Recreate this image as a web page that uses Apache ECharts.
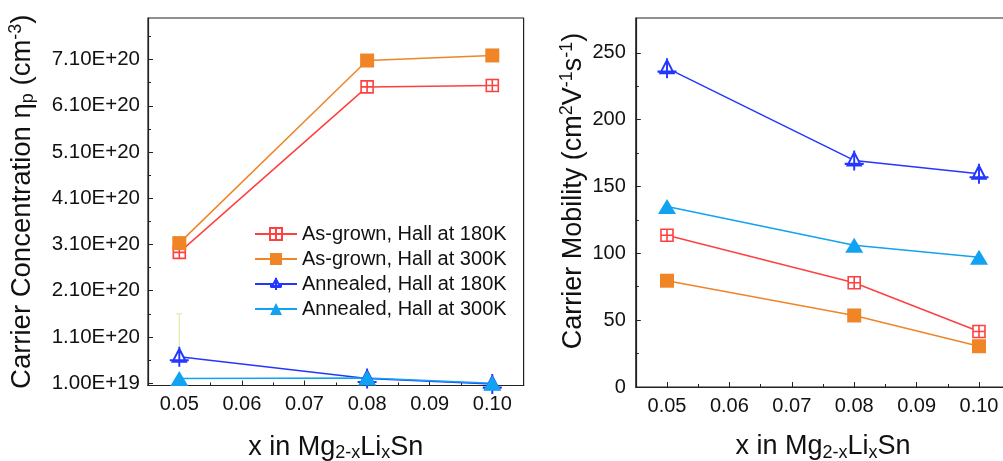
<!DOCTYPE html>
<html>
<head>
<meta charset="utf-8">
<script src="https://cdn.jsdelivr.net/npm/echarts@6/dist/echarts.min.js"></script>
<style>
  html, body { margin: 0; padding: 0; background: #fff; }
  #chart { width: 1003px; height: 461px; }
</style>
</head>
<body>
<div id="chart"></div>
<script>
// x values (Li content)
var xVals = [0.05, 0.08, 0.10];

// carrier concentration (cm^-3)
var concAsGrown180 = [2.93e20, 6.51e20, 6.54e20];
var concAsGrown300 = [3.13e20, 7.08e20, 7.19e20];
var concAnneal180 = [0.67e20, 0.20e20, 0.08e20];
var concAnneal300 = [0.20e20, 0.21e20, 0.10e20];
// error bar on annealed 180K at x=0.05
var errX = [0.05];
var errLow = [0.67e20];
var errHigh = [1.60e20];

// carrier mobility (cm2 V-1 s-1)
var mobAsGrown180 = [113.5, 78, 41.5];
var mobAsGrown300 = [79.5, 53.5, 30.5];
var mobAnneal180 = [238.5, 169.5, 159.5];
var mobAnneal300 = [135, 106, 97];

// tick values
var xMajor = [0.05, 0.06, 0.07, 0.08, 0.09, 0.10];
var xMinor = [0.055, 0.065, 0.075, 0.085, 0.095];
var concMajor = [0.1e20, 1.1e20, 2.1e20, 3.1e20, 4.1e20, 5.1e20, 6.1e20, 7.1e20];
var concMinor = [0.6e20, 1.6e20, 2.6e20, 3.6e20, 4.6e20, 5.6e20, 6.6e20, 7.6e20];
var mobMajor = [0, 50, 100, 150, 200, 250];
var mobMinor = [25, 75, 125, 175, 225];

var names = ["As-grown, Hall at 180K", "As-grown, Hall at 300K", "Annealed, Hall at 180K", "Annealed, Hall at 300K"];

var FONT = "Liberation Sans";
var INK = "#111";
var FRAME = "#222";
var cRed = "#ff4040", cOrange = "#ef8527", cBlue = "#2437ff", cCyan = "#12a2f2";

var gridSymbol = "path://M0,0H10V10H0Z M5,0V10 M0,5H10";
var triCross = "path://M10,2L17,15H3Z M10,0V20 M0,13.5H20";

function pairs(ys) {
  return xVals.map(function (x, i) { return [x, ys[i]]; });
}
function sci(v) {
  var e = Math.floor(Math.log10(v) + 1e-9);
  return (v / Math.pow(10, e)).toFixed(2) + "E+" + e;
}

var richSub = {
  sub: { fontSize: 18, fontFamily: FONT, color: INK, verticalAlign: "bottom" },
  sup: { fontSize: 18, fontFamily: FONT, color: INK, verticalAlign: "top" }
};

function xMain(grid, min, max, gap) {
  return {
    type: "value", gridIndex: grid, position: "bottom", min: min, max: max,
    name: "x in Mg{sub|2-x}Li{sub|x}Sn", nameLocation: "middle", nameGap: gap,
    nameTextStyle: { fontSize: 27, fontFamily: FONT, color: INK, lineHeight: 30, rich: richSub },
    axisLine: { show: true, lineStyle: { color: FRAME, width: 1.2 } },
    axisTick: { show: true, inside: true, length: 5, customValues: xMajor, lineStyle: { color: FRAME } },
    axisLabel: { customValues: xMajor, margin: 9, fontSize: 20, fontFamily: FONT, color: INK,
      formatter: function (v) { return v.toFixed(2); } },
    splitLine: { show: false }
  };
}
function xMinorAxis(grid, min, max) {
  return {
    type: "value", gridIndex: grid, position: "bottom", min: min, max: max,
    axisLine: { show: false },
    axisTick: { show: true, inside: true, length: 3, customValues: xMinor, lineStyle: { color: FRAME } },
    axisLabel: { show: false }, splitLine: { show: false }
  };
}
function yMinorAxis(grid, min, max, ticks) {
  return {
    type: "value", gridIndex: grid, position: "left", min: min, max: max,
    axisLine: { show: false },
    axisTick: { show: true, inside: true, length: 3, customValues: ticks, lineStyle: { color: FRAME } },
    axisLabel: { show: false }, splitLine: { show: false }
  };
}

function lineSeries(name, xi, yi, data, color, sym, size, fill, bw) {
  return {
    name: name, type: "line", xAxisIndex: xi, yAxisIndex: yi, data: data,
    symbol: sym, symbolSize: size,
    lineStyle: { color: color, width: 1.5 },
    itemStyle: { color: fill || color, borderColor: color, borderWidth: fill ? (bw || 1.6) : 0 },
    emphasis: { disabled: true }, animation: false
  };
}

var myChart = echarts.init(document.getElementById("chart"));
myChart.setOption({
  backgroundColor: "#fff",
  animation: false,
  grid: [
    { left: 148, right: 479.4, top: 18, bottom: 75.5, outerBoundsMode: "none",
      show: true, borderColor: FRAME, borderWidth: 1.2 },
    { left: 635.8, right: -7.2, top: 18, bottom: 74, outerBoundsMode: "none",
      show: true, borderColor: FRAME, borderWidth: 1.2 }
  ],
  legend: {
    data: names, orient: "vertical", left: 249, top: 219,
    itemWidth: 42, itemHeight: 15, itemGap: 5,
    textStyle: { fontSize: 20, fontFamily: FONT, color: INK }
  },
  xAxis: [
    xMain(0, 0.045, 0.105, 47), xMinorAxis(0, 0.045, 0.105),
    xMain(1, 0.045, 0.105, 45), xMinorAxis(1, 0.045, 0.105)
  ],
  yAxis: [
    {
      type: "value", gridIndex: 0, position: "left", min: 0.05e20, max: 8.0e20,
      name: "Carrier Concentration η{sub|p} (cm{sup|-3})", nameLocation: "middle", nameGap: 111,
      nameTextStyle: { fontSize: 27.5, fontFamily: FONT, color: INK, lineHeight: 30, rich: richSub },
      axisLine: { show: true, lineStyle: { color: FRAME, width: 1.2 } },
      axisTick: { show: true, inside: true, length: 5, customValues: concMajor, lineStyle: { color: FRAME } },
      axisLabel: { customValues: concMajor, margin: 8, fontSize: 20.5, fontFamily: FONT, color: INK, formatter: sci },
      splitLine: { show: false }
    },
    yMinorAxis(0, 0.05e20, 8.0e20, concMinor),
    {
      type: "value", gridIndex: 1, position: "left", min: 0, max: 276,
      name: "Carrier Mobility (cm{sup|2}V{sup|-1}s{sup|-1})", nameLocation: "middle", nameGap: 45,
      nameTextStyle: { fontSize: 27, fontFamily: FONT, color: INK, lineHeight: 30, rich: richSub, padding: [0, 0, 0, 23] },
      axisLine: { show: true, lineStyle: { color: FRAME, width: 1.2 } },
      axisTick: { show: true, inside: true, length: 5, customValues: mobMajor, lineStyle: { color: FRAME } },
      axisLabel: { customValues: mobMajor, margin: 10, fontSize: 20, fontFamily: FONT, color: INK },
      splitLine: { show: false }
    },
    yMinorAxis(1, 0, 276, mobMinor)
  ],
  series: [
    {
      type: "custom", xAxisIndex: 0, yAxisIndex: 0, z: 1, silent: true,
      data: errX.map(function (x, i) { return [x, errLow[i], errHigh[i]]; }),
      encode: { x: 0, y: [1, 2] },
      renderItem: function (params, api) {
        var lo = api.coord([api.value(0), api.value(1)]);
        var hi = api.coord([api.value(0), api.value(2)]);
        var st = { stroke: "#dbe79a", lineWidth: 1 };
        return { type: "group", children: [
          { type: "line", shape: { x1: lo[0], y1: lo[1], x2: hi[0], y2: hi[1] }, style: st },
          { type: "line", shape: { x1: hi[0] - 3, y1: hi[1], x2: hi[0] + 3, y2: hi[1] }, style: st }
        ] };
      }
    },
    lineSeries(names[0], 0, 0, pairs(concAsGrown180), cRed, gridSymbol, 12, "#fff"),
    lineSeries(names[1], 0, 0, pairs(concAsGrown300), cOrange, "rect", 14),
    lineSeries(names[2], 0, 0, pairs(concAnneal180), cBlue, triCross, [19, 20], "#fff", 2),
    lineSeries(names[3], 0, 0, pairs(concAnneal300), cCyan, "triangle", [18, 15]),
    lineSeries(names[0], 2, 2, pairs(mobAsGrown180), cRed, gridSymbol, 12, "#fff"),
    lineSeries(names[1], 2, 2, pairs(mobAsGrown300), cOrange, "rect", 14),
    lineSeries(names[2], 2, 2, pairs(mobAnneal180), cBlue, triCross, [19, 20], "#fff", 2),
    lineSeries(names[3], 2, 2, pairs(mobAnneal300), cCyan, "triangle", [18, 15])
  ]
});
</script>
</body>
</html>
